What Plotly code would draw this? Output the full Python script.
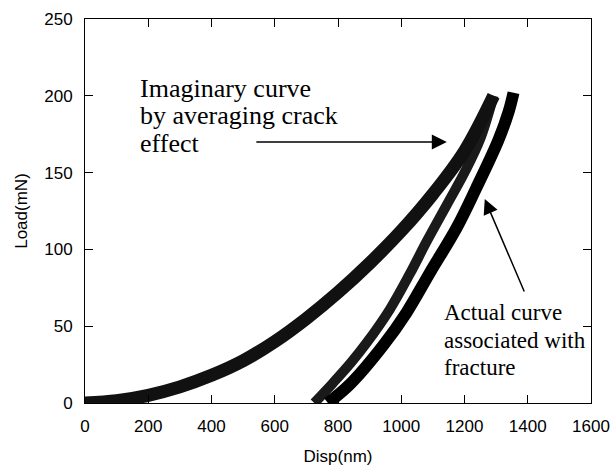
import plotly.graph_objects as go

# Loading curve (imaginary, shared part)
load_x = [0, 100, 200, 300, 400, 500, 600, 700, 800, 900, 1000, 1100, 1200, 1292]
load_y = [0, 1.5, 5, 10.5, 18, 27.5, 40, 55, 72, 91, 112, 136, 164, 200]

# Imaginary unloading curve (averaging crack effect)
imag_x = [1292, 1250, 1200, 1144, 1080, 1027, 964, 890, 840, 784, 725]
imag_y = [200, 172, 150, 129, 105, 84, 61, 39, 26, 13, 0]

# Actual unloading curve associated with fracture
act_x = [1355, 1340, 1307, 1235, 1175, 1091, 1017, 943, 837, 768]
act_y = [202, 190, 171, 139, 114, 85, 59, 37.5, 12, 0]

x_ticks = [0, 200, 400, 600, 800, 1000, 1200, 1400, 1600]
y_ticks = [0, 50, 100, 150, 200, 250]

fig = go.Figure()
fig.add_trace(go.Scatter(x=imag_x, y=imag_y, mode="lines",
                         line=dict(color="#1a1a1a", width=10, shape="spline"), showlegend=False))
fig.add_trace(go.Scatter(x=load_x, y=load_y, mode="lines",
                         line=dict(color="#111111", width=13, shape="spline"), showlegend=False))
fig.add_trace(go.Scatter(x=act_x, y=act_y, mode="lines",
                         line=dict(color="black", width=12, shape="spline"), showlegend=False))

serif = "Liberation Serif, Times New Roman, serif"
txt1 = ["Imaginary curve", "by averaging crack", "effect"]
txt1_y = [205, 187, 169]
for t, yy in zip(txt1, txt1_y):
    fig.add_annotation(x=166, y=yy, text=t, showarrow=False, xanchor="left", yanchor="middle",
                       font=dict(family=serif, size=26, color="black"))
txt2 = ["Actual curve", "associated with", "fracture"]
txt2_y = [58.6, 41, 23.4]
for t, yy in zip(txt2, txt2_y):
    fig.add_annotation(x=1130, y=yy, text=t, showarrow=False, xanchor="left", yanchor="middle",
                       font=dict(family=serif, size=23, color="black"))

# arrows
fig.add_annotation(x=1144, y=170, ax=537, ay=170, axref="x", ayref="y", text="",
                   showarrow=True, arrowhead=2, arrowsize=2, arrowwidth=1.5, arrowcolor="black")
fig.add_annotation(x=1264, y=132.8, ax=1391, ay=71.6, axref="x", ayref="y", text="",
                   showarrow=True, arrowhead=2, arrowsize=2, arrowwidth=1.5, arrowcolor="black")

axis_font = dict(family="Arial, Liberation Sans, sans-serif", size=17, color="black")
common = dict(showgrid=False, zeroline=False, showline=True, linecolor="black", linewidth=1,
              mirror="ticks", ticks="inside", ticklen=8, tickcolor="black", tickwidth=1,
              tickfont=axis_font, automargin=False)
fig.update_xaxes(range=[0, 1600], tickvals=x_ticks, ticktext=[str(v) for v in x_ticks],
                 title=dict(text="Disp(nm)", font=axis_font, standoff=14), ticklabelstandoff=8, **common)
fig.update_yaxes(range=[0, 250], tickvals=y_ticks, ticktext=[str(v) for v in y_ticks],
                 title=dict(text="Load(mN)", font=axis_font, standoff=12), ticklabelstandoff=8, **common)
fig.update_layout(width=613, height=468, margin=dict(l=85, r=22, t=19, b=65),
                  plot_bgcolor="white", paper_bgcolor="white")
fig.write_html("out.html")
